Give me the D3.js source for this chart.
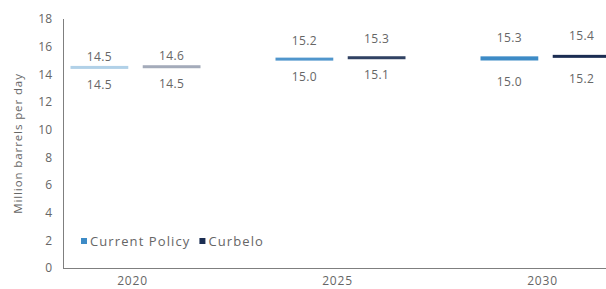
<!DOCTYPE html>
<html>
<head>
<meta charset="utf-8">
<script src="https://cdn.jsdelivr.net/npm/d3@7"></script>
<style>
	body { margin: 0; background: #fff; }
	svg text { font-family: "Open Sans", sans-serif; fill: #666; }
</style>
</head>
<body>
<div id="chart"></div>
<script>
// DATA
const years = ["2020", "2025", "2030"];
const seriesNames = ["Current Policy", "Curbelo"];
const currentLow = [14.5, 15.0, 15.0];
const currentHigh = [14.5, 15.2, 15.3];
const curbeloLow = [14.5, 15.1, 15.2];
const curbeloHigh = [14.6, 15.3, 15.4];
const yTicks = [0, 2, 4, 6, 8, 10, 12, 14, 16, 18];

// STYLE
const colors = ["#3d8bc6", "#1b2d52"];
const yearOpacity = [0.4, 0.9, 1];        // 2020 marks are drawn faint in the source
const topGap = [9, 17, 19];               // label distance above each year's bars
const botGap = [16, 16, 21];              // label distance below each year's bars

// SVG DIMENSIONS
const width = 606, height = 289;
const svg = d3.select("#chart").append("svg")
	.attr("width", width)
	.attr("height", height);

const axisX = 63;
const y = d3.scaleLinear().domain([0, 18]).range([268, 19]);
const x = d3.scaleBand().domain(years).range([30, 645]);
const sub = d3.scaleBand().domain(seriesNames).range([-62, 68]).paddingInner(0.2);

const rows = [];
years.forEach((yr, i) => {
	rows.push({ year: yr, i: i, s: 0, lo: currentLow[i], hi: currentHigh[i] });
	rows.push({ year: yr, i: i, s: 1, lo: curbeloLow[i], hi: curbeloHigh[i] });
});

// y tick labels
svg.append("g")
	.selectAll("text")
	.data(yTicks)
	.enter()
	.append("text")
		.attr("x", 52)
		.attr("y", d => y(d))
		.attr("dy", "0.35em")
		.attr("text-anchor", "end")
		.attr("font-size", 12)
		.text(d => d);

// axis title
svg.append("text")
	.attr("transform", `translate(22,${(y(0) + y(18)) / 2}) rotate(-90)`)
	.attr("text-anchor", "middle")
	.attr("font-size", 11.5)
	.attr("letter-spacing", 0.9)
	.text("Million barrels per day");

// axes lines
svg.append("line")
	.attr("x1", axisX + 0.5).attr("x2", axisX + 0.5)
	.attr("y1", y(18)).attr("y2", y(0))
	.attr("stroke", "#7f7f7f");
svg.append("line")
	.attr("x1", axisX).attr("x2", width)
	.attr("y1", y(0) + 0.5).attr("y2", y(0) + 0.5)
	.attr("stroke", "#7f7f7f");

// x labels
svg.append("g")
	.selectAll("text")
	.data(years)
	.enter()
	.append("text")
		.attr("x", d => x(d) + x.bandwidth() / 2)
		.attr("y", 281)
		.attr("dy", "0.35em")
		.attr("text-anchor", "middle")
		.attr("font-size", 12)
		.attr("letter-spacing", 0.8)
		.text(d => d);

// floating bars
const cx = d => x(d.year) + x.bandwidth() / 2 + sub(seriesNames[d.s]);
const barH = d => Math.max(3, y(d.lo) - y(d.hi));
const barTop = d => (y(d.lo) + y(d.hi)) / 2 - barH(d) / 2;

svg.append("g")
	.selectAll("rect")
	.data(rows)
	.enter()
	.append("rect")
		.attr("x", cx)
		.attr("width", sub.bandwidth())
		.attr("y", barTop)
		.attr("height", barH)
		.attr("fill", d => colors[d.s])
		.attr("fill-opacity", d => yearOpacity[d.i]);

// value labels
const labels = svg.append("g").attr("font-size", 12).attr("text-anchor", "middle").attr("letter-spacing", 0.4);
labels.selectAll("text.hi")
	.data(rows)
	.enter()
	.append("text")
		.attr("class", "hi")
		.attr("x", d => cx(d) + sub.bandwidth() / 2)
		.attr("y", d => barTop(d) - topGap[d.i])
		.attr("dy", "0.35em")
		.text(d => d.hi.toFixed(1));
labels.selectAll("text.lo")
	.data(rows)
	.enter()
	.append("text")
		.attr("class", "lo")
		.attr("x", d => cx(d) + sub.bandwidth() / 2)
		.attr("y", d => barTop(d) + barH(d) + botGap[d.i])
		.attr("dy", "0.35em")
		.text(d => d.lo.toFixed(1));

// legend
const legend = svg.append("g").attr("transform", "translate(81,241)");
let lx = 0;
seriesNames.forEach((name, i) => {
	legend.append("rect")
		.attr("x", lx).attr("y", -3)
		.attr("width", 6).attr("height", 6)
		.attr("fill", colors[i]);
	const t = legend.append("text")
		.attr("x", lx + 9)
		.attr("dy", "0.35em")
		.attr("font-size", 13)
		.attr("letter-spacing", 1.1)
		.text(name);
	lx += 9 + t.node().getComputedTextLength() + 9;
});
</script>
</body>
</html>
